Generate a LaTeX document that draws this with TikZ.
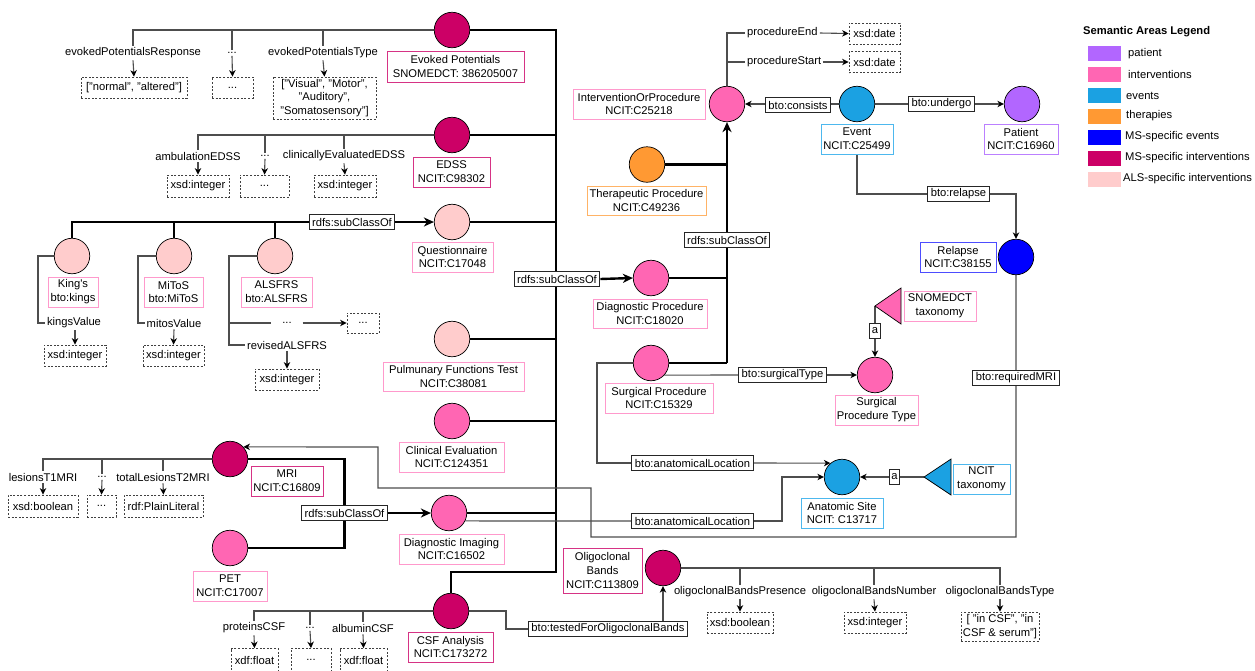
\documentclass[tikz,border=0pt]{standalone}
\usepackage{fontspec}
\setmainfont{Liberation Sans}
\usetikzlibrary{arrows.meta,calc}
\definecolor{cPat}{HTML}{B266FF}
\definecolor{cInt}{HTML}{FF66B3}
\definecolor{cEv}{HTML}{1BA1E2}
\definecolor{cTh}{HTML}{FF9933}
\definecolor{cMSe}{HTML}{0000FF}
\definecolor{cMSi}{HTML}{CC0066}
\definecolor{cALS}{HTML}{FFCCCC}
\definecolor{bInt}{HTML}{FF99CC}
\definecolor{bMSi}{HTML}{D63385}
\definecolor{bEv}{HTML}{4DB8EE}
\definecolor{bTh}{HTML}{FFB366}
\definecolor{bMSe}{HTML}{4D4DFF}
\definecolor{bPat}{HTML}{BB80FF}
\definecolor{ln}{HTML}{4D4D4D}
\newcommand\fsz{\fontsize{11.2}{13.9}\selectfont}
\pgfdeclarelayer{bg}
\pgfsetlayers{bg,main}
\tikzset{
  every node/.style={font=\fsz},
  cls/.style={circle,draw=black,line width=0.7pt,minimum size=35.5pt,inner sep=0pt},
  lbl/.style={draw,line width=1pt,fill=white,align=center,inner sep=0pt},
  dtbox/.style={draw=black!75,dash pattern=on 2pt off 1.6pt,line width=0.75pt,fill=white,align=center,inner sep=0pt},
  relbox/.style={draw=black!85,line width=0.9pt,fill=white,inner xsep=3pt,inner ysep=1.5pt,minimum height=15pt},
  prop/.style={inner sep=2pt},
  thn/.style={draw=ln,line width=1.1pt},
  thk/.style={draw=black,line width=2.4pt},
  tarr/.style={-{Stealth[length=6.5pt,width=6.5pt,inset=2pt,color=black]}},
  karr/.style={-{Stealth[length=10pt,width=9pt,inset=3pt]}},
  swatch/.style={minimum width=33pt,minimum height=15pt,inner sep=0pt},
  legtxt/.style={anchor=west,inner sep=2pt},
}
\begin{document}
\begin{tikzpicture}[x=1pt,y=-1pt]
\begin{pgfonlayer}{bg}
\fill[white] (0,0) rectangle (1255,670);
\end{pgfonlayer}
\useasboundingbox (0,0) rectangle (1255,670);

% ---------- class circles ----------
\node[cls,fill=cMSi] (ep) at (452,30) {};
\node[cls,fill=cMSi] (edss) at (452,135) {};
\node[cls,fill=cALS] (quest) at (452,222) {};
\node[cls,fill=cALS] (pft) at (452,339) {};
\node[cls,fill=cInt] (clin) at (452,421) {};
\node[cls,fill=cInt] (diagimg) at (449,513) {};
\node[cls,fill=cMSi] (csf) at (451,611) {};
\node[cls,fill=cInt] (diagproc) at (651,278) {};
\node[cls,fill=cInt] (surg) at (651,363) {};
\node[cls,fill=cTh] (ther) at (647,164.5) {};
\node[cls,fill=cInt] (interv) at (727,104) {};
\node[cls,fill=cEv] (event) at (857,104) {};
\node[cls,fill=cPat] (patient) at (1022,104) {};
\node[cls,fill=cMSe] (relapse) at (1016,257) {};
\node[cls,fill=cInt] (surgtype) at (875,375) {};
\node[cls,fill=cEv] (anat) at (842,477) {};
\node[cls,fill=cMSi] (olig) at (663,568) {};
\node[cls,fill=cALS] (kings) at (72,256) {};
\node[cls,fill=cALS] (mitos) at (174,256) {};
\node[cls,fill=cALS] (alsfrs) at (275,256) {};
\node[cls,fill=cMSi] (mri) at (230,459) {};
\node[cls,fill=cInt] (pet) at (230,548) {};

% taxonomy triangles
\coordinate (snTip) at (875,306);
\draw[fill=cInt,line width=0.7pt] (snTip) -- (901,288) -- (901,324) -- cycle;
\coordinate (ncTip) at (924,477);
\draw[fill=cEv,line width=0.7pt] (ncTip) -- (951,459) -- (951,495) -- cycle;

% ---------- class labels ----------
\node[lbl,draw=bMSi,minimum width=137pt,minimum height=31pt] (eplbl) at (455.5,66.5) {Evoked Potentials\\SNOMEDCT: 386205007};
\node[lbl,draw=bMSi,minimum width=77pt,minimum height=30pt] (edsslbl) at (451.5,172) {EDSS\\NCIT:C98302};
\node[lbl,draw=bInt,minimum width=81pt,minimum height=30pt] (questlbl) at (452.5,257) {Questionnaire\\NCIT:C17048};
\node[lbl,draw=bInt,minimum width=141pt,minimum height=29pt] (pftlbl) at (453.5,376.5) {Pulmunary Functions Test\\NCIT:C38081};
\node[lbl,draw=bInt,minimum width=105pt,minimum height=30pt] (clinlbl) at (451.5,457) {Clinical Evaluation\\NCIT:C124351};
\node[lbl,draw=bInt,minimum width=105pt,minimum height=30pt] (diagimglbl) at (451.5,549) {Diagnostic Imaging\\NCIT:C16502};
\node[lbl,draw=bMSi,minimum width=85pt,minimum height=30pt] (csflbl) at (450.5,647) {CSF Analysis\\NCIT:C173272};
\node[lbl,draw=bMSi,minimum width=79pt,minimum height=45pt] (oliglbl) at (602.5,570.5) {Oligoclonal\\Bands\\NCIT:C113809};
\node[lbl,draw=bInt,minimum width=114pt,minimum height=29pt] (diagproclbl) at (650,313.5) {Diagnostic Procedure\\NCIT:C18020};
\node[lbl,draw=bInt,minimum width=108pt,minimum height=30pt] (surglbl) at (659,398) {Surgical Procedure\\NCIT:C15329};
\node[lbl,draw=bTh,minimum width=119pt,minimum height=29pt] (therlbl) at (646.5,200.5) {Therapeutic Procedure\\NCIT:C49236};
\node[lbl,draw=bInt,minimum width=132pt,minimum height=30pt] (intervlbl) at (639,104) {InterventionOrProcedure\\NCIT:C25218};
\node[lbl,draw=bEv,minimum width=72pt,minimum height=30pt] (eventlbl) at (857,139) {Event\\NCIT:C25499};
\node[lbl,draw=bPat,minimum width=74pt,minimum height=30pt] (patientlbl) at (1021,139) {Patient\\NCIT:C16960};
\node[lbl,draw=bMSe,minimum width=76pt,minimum height=30pt] (relapselbl) at (958,257) {Relapse\\NCIT:C38155};
\node[lbl,draw=bInt,minimum width=72pt,minimum height=30pt] (snlbl) at (940,306) {SNOMEDCT\\taxonomy};
\node[lbl,draw=bInt,minimum width=83pt,minimum height=30pt] (surgtypelbl) at (876.5,410) {Surgical\\Procedure Type};
\node[lbl,draw=bEv,minimum width=82pt,minimum height=30pt] (anatlbl) at (842,513) {Anatomic Site\\NCIT: C13717};
\node[lbl,draw=bEv,minimum width=57pt,minimum height=30pt] (nclbl) at (981.5,479) {NCIT\\taxonomy};
\node[lbl,draw=bInt,minimum width=50pt,minimum height=30pt] (kingslbl) at (73,292) {King\textquotesingle s\\bto:kings};
\node[lbl,draw=bInt,minimum width=59pt,minimum height=30pt] (mitoslbl) at (173.5,292) {MiToS\\bto:MiToS};
\node[lbl,draw=bInt,minimum width=71pt,minimum height=30pt] (alsfrslbl) at (276.5,292) {ALSFRS\\bto:ALSFRS};
\node[lbl,draw=bMSi,minimum width=72pt,minimum height=30pt] (mrilbl) at (287,481) {MRI\\NCIT:C16809};
\node[lbl,draw=bInt,minimum width=74pt,minimum height=30pt] (petlbl) at (230,586) {PET\\NCIT:C17007};

% ---------- relation labels ----------
\node[relbox] (rsc1) at (352,222) {rdfs:subClassOf};
\node[relbox] (rsc2) at (557,279) {rdfs:subClassOf};
\node[relbox] (rsc3) at (727,240) {rdfs:subClassOf};
\node[relbox] (rsc4) at (344.5,513) {rdfs:subClassOf};
\node[relbox] (cons) at (798,105) {bto:consists};
\node[relbox] (undergo) at (941.5,104) {bto:undergo};
\node[relbox] (rrel) at (958.5,194) {bto:relapse};
\node[relbox] (rmri) at (1016,378) {bto:requiredMRI};
\node[relbox] (stype) at (782.5,375) {bto:surgicalType};
\node[relbox] (al1) at (692.5,463) {bto:anatomicalLocation};
\node[relbox] (al2) at (692.5,521) {bto:anatomicalLocation};
\node[relbox] (tested) at (608,629) {bto:testedForOligoclonalBands};
\node[relbox,inner xsep=2pt] (a1) at (875,330.5) {a};
\node[relbox,inner xsep=2pt] (a2) at (894.5,477) {a};

% ---------- properties ----------
\node[prop] (p_epr) at (133,53) {evokedPotentialsResponse};
\node[prop] (p_ep2) at (232,53) {...};
\node[prop] (p_ept) at (323,53) {evokedPotentialsType};
\node[prop] (p_ed1) at (198,156) {ambulationEDSS};
\node[prop] (p_ed2) at (265,156) {...};
\node[prop] (p_ed3) at (344,156) {clinicallyEvaluatedEDSS};
\node[prop] (p_kv) at (74,323) {kingsValue};
\node[prop] (p_mv) at (174,323) {mitosValue};
\node[prop,minimum width=31pt] (p_dots) at (287,323) {...};
\node[prop] (p_rev) at (287,345) {revisedALSFRS};
\node[prop] (p_l1) at (43,477) {lesionsT1MRI};
\node[prop] (p_l2) at (102,477) {...};
\node[prop] (p_l3) at (163,477) {totalLesionsT2MRI};
\node[prop] (p_c1) at (254,628) {proteinsCSF};
\node[prop] (p_c2) at (310,628) {...};
\node[prop] (p_c3) at (363,628) {albuminCSF};
\node[prop] (p_o1) at (740,592) {oligoclonalBandsPresence};
\node[prop] (p_o2) at (874,592) {oligoclonalBandsNumber};
\node[prop] (p_o3) at (1000,592) {oligoclonalBandsType};
\node[prop,anchor=west] (p_pe) at (745,33) {procedureEnd};
\node[prop,anchor=west] (p_ps) at (745,62) {procedureStart};

% ---------- datatypes ----------
\node[dtbox,minimum width=106pt,minimum height=21pt] (d_ep1) at (134,87.5) {["normal", "altered"]};
\node[dtbox,minimum width=41pt,minimum height=21pt] (d_ep2) at (232.5,87.5) {...};
\node[dtbox,minimum width=103pt,minimum height=42pt] (d_ep3) at (324.5,98) {["Visual", "Motor",\\"Auditory",\\"Somatosensory"]};
\node[dtbox,minimum width=62pt,minimum height=22pt] (d_ed1) at (198,186) {xsd:integer};
\node[dtbox,minimum width=49pt,minimum height=22pt] (d_ed2) at (264.5,186) {...};
\node[dtbox,minimum width=62pt,minimum height=22pt] (d_ed3) at (345,186) {xsd:integer};
\node[dtbox,minimum width=62pt,minimum height=21pt] (d_kv) at (75,355.5) {xsd:integer};
\node[dtbox,minimum width=61pt,minimum height=21pt] (d_mv) at (173.5,355.5) {xsd:integer};
\node[dtbox,minimum width=32pt,minimum height=20pt] (d_dots) at (363,323) {...};
\node[dtbox,minimum width=64pt,minimum height=21pt] (d_rev) at (287,379.5) {xsd:integer};
\node[dtbox,minimum width=70pt,minimum height=22pt] (d_l1) at (43,506) {xsd:boolean};
\node[dtbox,minimum width=29pt,minimum height=22pt] (d_l2) at (101.5,506) {...};
\node[dtbox,minimum width=79pt,minimum height=22pt] (d_l3) at (163.5,506) {rdf:PlainLiteral};
\node[dtbox,minimum width=47pt,minimum height=23pt] (d_c1) at (254.5,660) {xdf:float};
\node[dtbox,minimum width=40pt,minimum height=23pt] (d_c2) at (311,660) {...};
\node[dtbox,minimum width=47pt,minimum height=23pt] (d_c3) at (363.5,660) {xdf:float};
\node[dtbox,minimum width=66pt,minimum height=21pt] (d_o1) at (740,622.5) {xsd:boolean};
\node[dtbox,minimum width=62pt,minimum height=21pt] (d_o2) at (875,622.5) {xsd:integer};
\node[dtbox,minimum width=78pt,minimum height=29pt] (d_o3) at (1000,626.5) {[ "in CSF", "in\\CSF \& serum"]};
\node[dtbox,minimum width=51pt,minimum height=21pt] (d_date1) at (874.5,33.5) {xsd:date};
\node[dtbox,minimum width=51pt,minimum height=21pt] (d_date2) at (874.5,62) {xsd:date};

% ---------- legend ----------
\node[legtxt,font=\fsz\bfseries,inner sep=0pt] (legtitle) at (1083,32) {Semantic Areas Legend};
\node[swatch,fill=cPat] (sw1) at (1104.5,53.5) {};
\node[swatch,fill=cInt] (sw2) at (1104.5,74.5) {};
\node[swatch,fill=cEv] (sw3) at (1104.5,95.5) {};
\node[swatch,fill=cTh] (sw4) at (1104.5,116) {};
\node[swatch,fill=cMSe] (sw5) at (1104.5,137) {};
\node[swatch,fill=cMSi] (sw6) at (1104.5,158) {};
\node[swatch,fill=cALS] (sw7) at (1104.5,179) {};
\node[legtxt] (lt1) at (1126,53.5) {patient};
\node[legtxt] (lt2) at (1126,74.5) {interventions};
\node[legtxt] (lt3) at (1124,95.5) {events};
\node[legtxt] (lt4) at (1124,116) {therapies};
\node[legtxt] (lt5) at (1123,137) {MS-specific events};
\node[legtxt] (lt6) at (1123,158) {MS-specific interventions};
\node[legtxt] (lt7) at (1121,179) {ALS-specific interventions};

% ---------- connectors ----------
\begin{pgfonlayer}{bg}
% thick subclass spine
\coordinate (sp1) at (556,30);
\coordinate (sp2) at (556,572);
\draw[thk] (ep.east) -- (sp1) -- (sp2) -| (csf.north);
\foreach \n in {edss,quest,pft,clin,diagimg} \draw[thk] (\n.east) -- (\n.east -| sp1);
\draw[thk,karr] (rsc2.east) -- (diagproc.west);
% ALS questionnaires
\draw[thk] (kings.north) |- (rsc1.west);
\draw[thk] (mitos.north) -- (mitos.north |- rsc1.west);
\draw[thk] (alsfrs.north) -- (alsfrs.north |- rsc1.west);
\draw[thk,karr] (rsc1.east) -- (quest.west);
% intervention subclasses
\coordinate (ivb) at (727,363);
\draw[thk] (surg.east) -- (ivb);
\draw[thk,karr] (ivb) -- (interv.south);
\draw[thk] (diagproc.east) -- (diagproc.east -| ivb);
\draw[thk] (ther.east) -- (ther.east -| ivb);
% MRI / PET
\draw[thk] (mri.east) -| (rsc4.north);
\draw[thk] (pet.east) -| (rsc4.south);
\draw[thk,karr] (rsc4.east) -- (diagimg.west);

% evoked potentials properties
\coordinate (epb) at (133,30);
\draw[thn] (ep.west) -- (epb) -- (p_epr.north);
\draw[thn] (p_ep2.north) -- (p_ep2.north |- epb);
\draw[thn] (p_ept.north) -- (p_ept.north |- epb);
\draw[thn,tarr] (p_epr.south) -- (d_ep1.north);
\draw[thn,tarr] (p_ep2.south) -- (d_ep2.north);
\draw[thn,tarr] (p_ept.south) -- (d_ep3.north);
% EDSS properties
\coordinate (edb) at (198,135);
\draw[thn] (edss.west) -- (edb) -- (p_ed1.north);
\draw[thn] (p_ed2.north) -- (p_ed2.north |- edb);
\draw[thn] (p_ed3.north) -- (p_ed3.north |- edb);
\draw[thn,tarr] (p_ed1.south) -- (d_ed1.north);
\draw[thn,tarr] (p_ed2.south) -- (d_ed2.north);
\draw[thn,tarr] (p_ed3.south) -- (d_ed3.north);
% King's, MiToS, ALSFRS
\coordinate (kc) at (38,323);
\draw[thn] (kings.west) -| (kc) -- (p_kv.west);
\draw[thn,tarr] (d_kv.north |- p_kv.south) -- (d_kv.north);
\coordinate (mc) at (138,323);
\draw[thn] (mitos.west) -| (mc) -- (p_mv.west);
\draw[thn,tarr] (p_mv.south) -- (d_mv.north);
\coordinate (ac1) at (229,323);
\coordinate (ac2) at (229,345);
\draw[thn] (alsfrs.west) -| (ac2) -- (p_rev.west);
\draw[thn] (ac1) -- (p_dots.west);
\draw[thn,tarr] (p_dots.east) -- (d_dots.west);
\draw[thn,tarr] (p_rev.south) -- (d_rev.north);
% MRI properties
\coordinate (mrb) at (43,459);
\draw[thn] (mri.west) -- (mrb) -- (p_l1.north);
\draw[thn] (p_l2.north) -- (p_l2.north |- mrb);
\draw[thn] (p_l3.north) -- (p_l3.north |- mrb);
\draw[thn,tarr] (p_l1.south) -- (d_l1.north);
\draw[thn,tarr] (p_l2.south) -- (d_l2.north);
\draw[thn,tarr] (p_l3.south) -- (d_l3.north);
% CSF properties
\coordinate (csb) at (254,611);
\draw[thn] (csf.west) -- (csb) -- (p_c1.north);
\draw[thn] (p_c2.north) -- (p_c2.north |- csb);
\draw[thn] (p_c3.north) -- (p_c3.north |- csb);
\draw[thn,tarr] (p_c1.south) -- (d_c1.north);
\draw[thn,tarr] (p_c2.south) -- (d_c2.north);
\draw[thn,tarr] (p_c3.south) -- (d_c3.north);
% Oligoclonal properties
\coordinate (olb) at (1000,568);
\draw[thn] (olig.east) -- (olb) -- (p_o3.north);
\draw[thn] (p_o1.north) -- (p_o1.north |- olb);
\draw[thn] (p_o2.north) -- (p_o2.north |- olb);
\draw[thn,tarr] (p_o1.south) -- (d_o1.north);
\draw[thn,tarr] (p_o2.south) -- (d_o2.north);
\draw[thn,tarr] (p_o3.south) -- (d_o3.north);
% procedure dates
\coordinate (ivt) at (727,33);
\draw[thn] (interv.north) -- (ivt) -- (p_pe.west);
\draw[thn] (p_ps.west -| ivt) -- (p_ps.west);
\draw[thn,tarr] (p_pe.east) -- (d_date1.west);
\draw[thn,tarr] (p_ps.east) -- (d_date2.west);
% event relations
\draw[thn,tarr] (event.west) -- (interv.east);
\draw[thn,tarr] (event.east) -- (patient.west);
\draw[thn] (eventlbl.south) |- (rrel.west);
\draw[thn,tarr] (rrel.east) -| (relapse.north);
% required MRI
\coordinate (r1) at (1016,537);
\coordinate (r2) at (591,537);
\coordinate (r3) at (591,488);
\coordinate (r4) at (378,488);
\coordinate (r5) at (378,447);
\draw[thn,tarr] (relapse.south) -- (r1) -- (r2) -- (r3) -- (r4) -- (r5) -- (mri.42);
% anatomical locations
\coordinate (sa) at (597,463);
\draw[thn] (surg.west) -| (sa) -- (al1.west);
\draw[thn,tarr] (al1.east) -- (anat.130);
\coordinate (da) at (782,521);
\draw[thn] (diagimg.-26) -- (al2.west);
\draw[thn,tarr] (al2.east) -- (da) |- (anat.west);
% surgical type
\draw[thn] (surg.-42) -- (stype.west);
\draw[thn,tarr] (stype.east) -- (surgtype.west);
\draw[thn,tarr] (snTip) -- (surgtype.north);
\draw[thn,tarr] (ncTip) -- (anat.east);
% oligoclonal bands test
\coordinate (tb) at (506,629);
\draw[thn] (csf.east) -| (tb) -- (tested.west);
\draw[thn,tarr] (tested.east) -| (olig.south);
\end{pgfonlayer}
\end{tikzpicture}
\end{document}
